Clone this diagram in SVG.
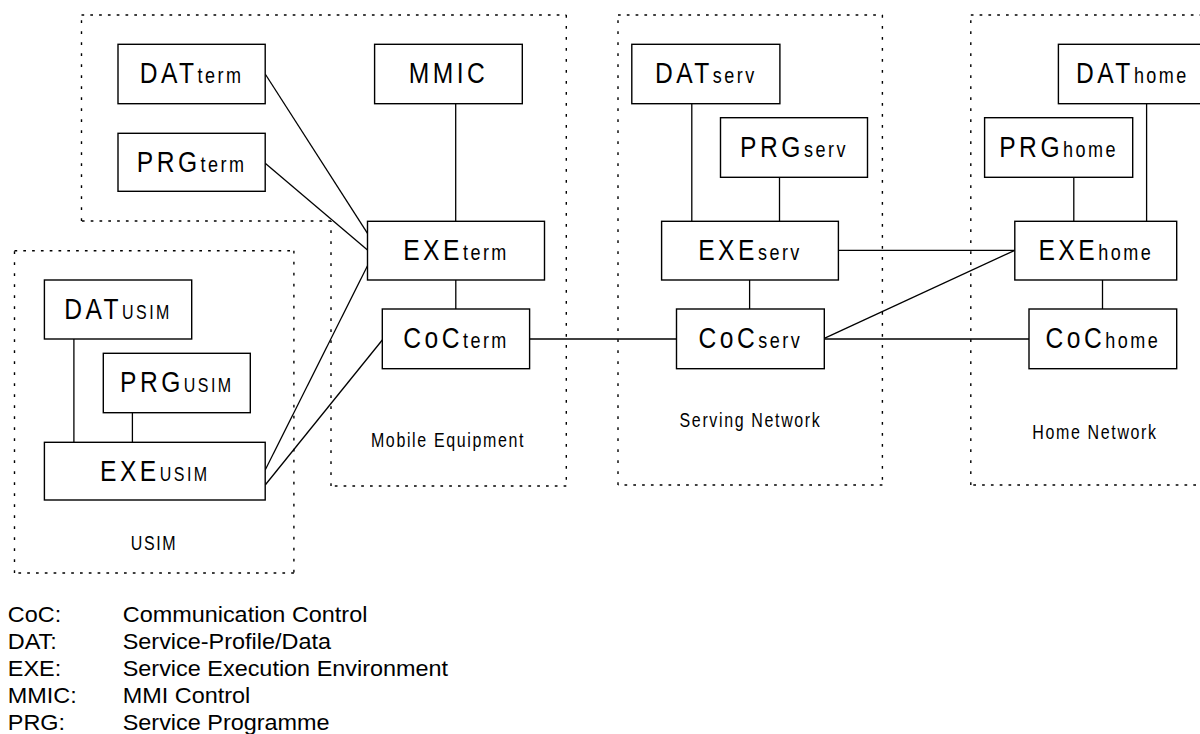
<svg xmlns="http://www.w3.org/2000/svg" width="1200" height="734" viewBox="0 0 1200 734">
<style>
  .bg { fill: #ffffff; }
  .box { fill: #ffffff; stroke: #000000; stroke-width: 1.4; }
  .conn { stroke: #000000; stroke-width: 1.3; fill: none; }
  .dh { stroke: #000000; stroke-width: 1.4; fill: none; stroke-dasharray: 2.7 6.1; }
  .dv { stroke: #000000; stroke-width: 1.4; fill: none; stroke-dasharray: 2.7 8.3; }
  .lbl { font-family: "Liberation Sans", Arial, Helvetica, sans-serif; font-size: 30px; letter-spacing: 4.3px; fill: #000000; }
  .sub { font-size: 22px; letter-spacing: 3px; }
  .usim { font-size: 19.5px; letter-spacing: 3px; }
  .cap { font-family: "Liberation Sans", Arial, Helvetica, sans-serif; font-size: 19.5px; letter-spacing: 2px; fill: #000000; }
  .leg { font-family: "Liberation Sans", Arial, Helvetica, sans-serif; font-size: 21.5px; fill: #000000; }
</style>
<rect class="bg" x="0" y="0" width="1200" height="734"/>

<g id="areas">
  <g id="area-mobile-equipment">
    <path class="dh" d="M81.5,15 H566.3 M566.3,486 H331 M331,221 H81.5"/>
    <path class="dv" d="M566.3,15 V486 M331,486 V221 M81.5,221 V15"/>
    <text class="cap" transform="translate(448,447.3) scale(0.82,1)" text-anchor="middle">Mobile Equipment</text>
  </g>
  <g id="area-usim">
    <path class="dh" d="M14.5,250.7 H293.9 M293.9,573 H14.5"/>
    <path class="dv" d="M293.9,250.7 V573 M14.5,573 V250.7"/>
    <text class="cap" transform="translate(154,550) scale(0.82,1)" text-anchor="middle">USIM</text>
  </g>
  <g id="area-serving-network">
    <path class="dh" d="M618,15 H882.4 M882.4,485 H618"/>
    <path class="dv" d="M882.4,15 V485 M618,485 V15"/>
    <text class="cap" transform="translate(750.5,426.7) scale(0.82,1)" text-anchor="middle">Serving Network</text>
  </g>
  <g id="area-home-network">
    <path class="dh" d="M970.8,15 H1240 M1240,485 H970.8"/>
    <path class="dv" d="M970.8,485 V15"/>
    <text class="cap" transform="translate(1095,439.3) scale(0.82,1)" text-anchor="middle">Home Network</text>
  </g>
</g>

<g id="connectors">
  <line class="conn" x1="265.2" y1="74" x2="367.5" y2="233.3"/>
  <line class="conn" x1="265.2" y1="163.3" x2="367.5" y2="250"/>
  <line class="conn" x1="455.7" y1="103.7" x2="455.7" y2="221.3"/>
  <line class="conn" x1="455.8" y1="280" x2="455.8" y2="309"/>
  <line class="conn" x1="265.2" y1="470" x2="367.5" y2="265.7"/>
  <line class="conn" x1="265.2" y1="485" x2="382.3" y2="340"/>
  <line class="conn" x1="73.9" y1="339" x2="73.9" y2="442.3"/>
  <line class="conn" x1="132.4" y1="412.7" x2="132.4" y2="442.3"/>
  <line class="conn" x1="529.6" y1="339" x2="676.5" y2="339"/>
  <line class="conn" x1="691.8" y1="103.7" x2="691.8" y2="221.3"/>
  <line class="conn" x1="779.5" y1="177.3" x2="779.5" y2="221.3"/>
  <line class="conn" x1="749.6" y1="280" x2="749.6" y2="309"/>
  <line class="conn" x1="838.4" y1="250.3" x2="1014.8" y2="250.3"/>
  <line class="conn" x1="824.3" y1="338.3" x2="1014.8" y2="250.3"/>
  <line class="conn" x1="824.3" y1="339" x2="1029" y2="339"/>
  <line class="conn" x1="1073.8" y1="177.3" x2="1073.8" y2="221.3"/>
  <line class="conn" x1="1146.6" y1="103.7" x2="1146.6" y2="221.3"/>
  <line class="conn" x1="1102.5" y1="280" x2="1102.5" y2="309"/>
</g>

<g id="DATterm">
  <rect class="box" x="118" y="44.3" width="147.2" height="59.4"/>
  <text class="lbl" transform="translate(191.6,83.3) scale(0.82,1)" text-anchor="middle">DAT<tspan class="sub">term</tspan></text>
</g>
<g id="PRGterm">
  <rect class="box" x="118" y="133.3" width="147.2" height="58"/>
  <text class="lbl" transform="translate(191.6,171.6) scale(0.82,1)" text-anchor="middle">PRG<tspan class="sub">term</tspan></text>
</g>
<g id="MMIC">
  <rect class="box" x="374.6" y="44.3" width="147.7" height="59.4"/>
  <text class="lbl" transform="translate(448.5,83.3) scale(0.82,1)" text-anchor="middle">MMIC</text>
</g>
<g id="EXEterm">
  <rect class="box" x="367.5" y="221.3" width="177" height="58.7"/>
  <text class="lbl" transform="translate(456,260) scale(0.82,1)" text-anchor="middle">EXE<tspan class="sub">term</tspan></text>
</g>
<g id="CoCterm">
  <rect class="box" x="382.3" y="309" width="147.3" height="59.7"/>
  <text class="lbl" transform="translate(456,348.2) scale(0.82,1)" text-anchor="middle">CoC<tspan class="sub">term</tspan></text>
</g>
<g id="DATusim">
  <rect class="box" x="44.4" y="280" width="147.3" height="59"/>
  <text class="lbl" transform="translate(118,318.8) scale(0.82,1)" text-anchor="middle">DAT<tspan class="usim">USIM</tspan></text>
</g>
<g id="PRGusim">
  <rect class="box" x="103.3" y="353.3" width="147" height="59.4"/>
  <text class="lbl" transform="translate(176.8,392.3) scale(0.82,1)" text-anchor="middle">PRG<tspan class="usim">USIM</tspan></text>
</g>
<g id="EXEusim">
  <rect class="box" x="44.4" y="442.3" width="220.8" height="57.7"/>
  <text class="lbl" transform="translate(154.8,480.5) scale(0.82,1)" text-anchor="middle">EXE<tspan class="usim">USIM</tspan></text>
</g>
<g id="DATserv">
  <rect class="box" x="631.8" y="44.3" width="148.1" height="59.4"/>
  <text class="lbl" transform="translate(705.8,83.3) scale(0.82,1)" text-anchor="middle">DAT<tspan class="sub">serv</tspan></text>
</g>
<g id="PRGserv">
  <rect class="box" x="720.5" y="117.7" width="147" height="59.6"/>
  <text class="lbl" transform="translate(794,156.8) scale(0.82,1)" text-anchor="middle">PRG<tspan class="sub">serv</tspan></text>
</g>
<g id="EXEserv">
  <rect class="box" x="661.6" y="221.3" width="176.8" height="58.7"/>
  <text class="lbl" transform="translate(750,260) scale(0.82,1)" text-anchor="middle">EXE<tspan class="sub">serv</tspan></text>
</g>
<g id="CoCserv">
  <rect class="box" x="676.5" y="309" width="147.8" height="59.7"/>
  <text class="lbl" transform="translate(750.4,348.2) scale(0.82,1)" text-anchor="middle">CoC<tspan class="sub">serv</tspan></text>
</g>
<g id="DAThome">
  <rect class="box" x="1058.4" y="44.3" width="148" height="59.4"/>
  <text class="lbl" transform="translate(1132.4,83.3) scale(0.82,1)" text-anchor="middle">DAT<tspan class="sub">home</tspan></text>
</g>
<g id="PRGhome">
  <rect class="box" x="984.6" y="117.7" width="148.1" height="59.6"/>
  <text class="lbl" transform="translate(1058.6,156.8) scale(0.82,1)" text-anchor="middle">PRG<tspan class="sub">home</tspan></text>
</g>
<g id="EXEhome">
  <rect class="box" x="1014.8" y="221.3" width="161.9" height="58.7"/>
  <text class="lbl" transform="translate(1095.8,260) scale(0.82,1)" text-anchor="middle">EXE<tspan class="sub">home</tspan></text>
</g>
<g id="CoChome">
  <rect class="box" x="1029" y="309" width="147.7" height="59.7"/>
  <text class="lbl" transform="translate(1102.9,348.2) scale(0.82,1)" text-anchor="middle">CoC<tspan class="sub">home</tspan></text>
</g>

<g id="legend" transform="scale(1.09,1)">
  <text class="leg" x="7.2" y="622">CoC:</text>
  <text class="leg" x="112.6" y="622">Communication Control</text>
  <text class="leg" x="7.2" y="649">DAT:</text>
  <text class="leg" x="112.6" y="649">Service-Profile/Data</text>
  <text class="leg" x="7.2" y="676">EXE:</text>
  <text class="leg" x="112.6" y="676">Service Execution Environment</text>
  <text class="leg" x="7.2" y="703">MMIC:</text>
  <text class="leg" x="112.6" y="703">MMI Control</text>
  <text class="leg" x="7.2" y="730">PRG:</text>
  <text class="leg" x="112.6" y="730">Service Programme</text>
</g>
</svg>
